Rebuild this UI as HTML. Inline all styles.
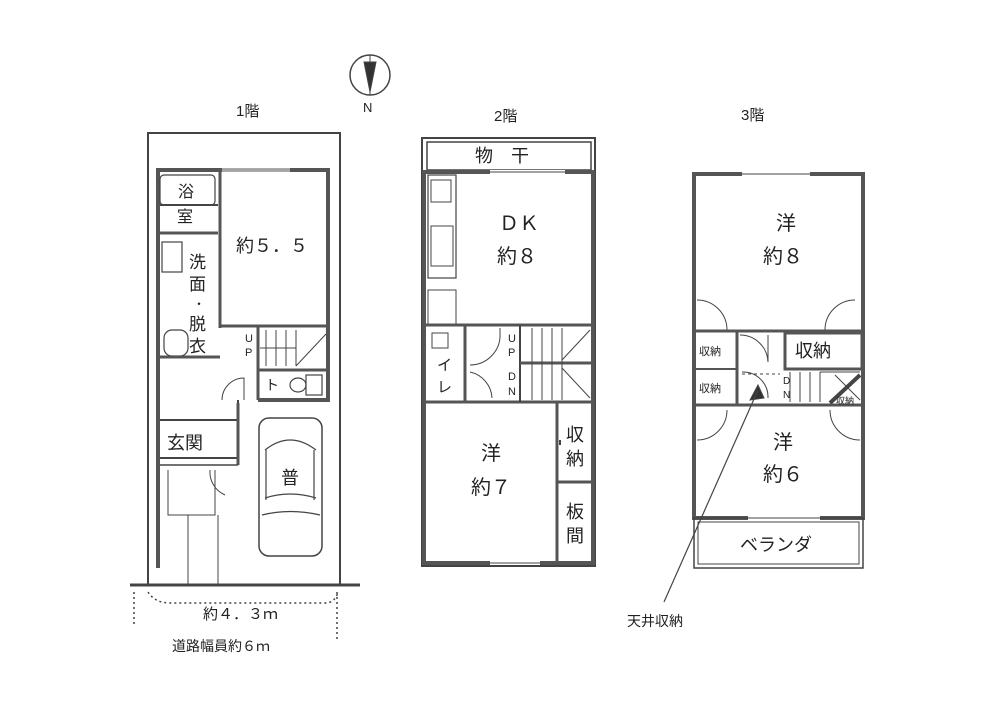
<!DOCTYPE html>
<html><head><meta charset="utf-8"><style>
html,body{margin:0;padding:0;background:#fff;}
svg{display:block}
text{font-family:"Liberation Sans","Noto Sans CJK JP",sans-serif;fill:#222;}
</style></head><body>
<svg width="1000" height="706" viewBox="0 0 1000 706" xmlns="http://www.w3.org/2000/svg">
<rect width="1000" height="706" fill="#fff"/>
<g stroke="#444" fill="none">
<!-- compass -->
<circle cx="370" cy="75" r="20" stroke-width="1.5"/>
<line x1="370" y1="55" x2="370" y2="95" stroke-width="1"/>
<path d="M364 62 L370 92 L376 62 Z" fill="#333"/>

<!-- ===== FLOOR 1 ===== -->
<path d="M148 585 V133 H340 V585" stroke-width="2"/>
<line x1="130" y1="585" x2="360" y2="585" stroke-width="3"/>
<!-- building walls -->
<path d="M158 568 V170 H328 V400 H258" stroke="#555" stroke-width="4"/>
<line x1="222" y1="170" x2="290" y2="170" stroke="#fff" stroke-width="3"/>
<line x1="222" y1="170" x2="290" y2="170" stroke-width="1"/>
<line x1="220" y1="170" x2="220" y2="328" stroke-width="3" stroke="#555"/>
<line x1="220" y1="326" x2="328" y2="326" stroke-width="3" stroke="#555"/>
<rect x="160" y="175" width="55" height="30" rx="4" stroke-width="1.2"/>
<line x1="160" y1="205" x2="218" y2="205" stroke-width="2"/>
<line x1="160" y1="233" x2="218" y2="233" stroke-width="3" stroke="#555"/>
<rect x="162" y="242" width="20" height="30" stroke-width="1.2"/>
<rect x="164" y="330" width="24" height="26" rx="8" stroke-width="1.2"/>
<line x1="158" y1="357" x2="220" y2="357" stroke-width="3" stroke="#555"/>
<!-- stairs -->
<line x1="258" y1="326" x2="258" y2="400" stroke-width="3" stroke="#555"/>
<line x1="258" y1="370" x2="328" y2="370" stroke-width="3" stroke="#555"/>
<g stroke-width="1"><line x1="266" y1="330" x2="266" y2="366"/><line x1="276" y1="330" x2="276" y2="366"/><line x1="286" y1="330" x2="286" y2="366"/><line x1="296" y1="330" x2="296" y2="366"/><line x1="260" y1="348" x2="296" y2="348"/><line x1="296" y1="366" x2="326" y2="334"/></g>
<rect x="306" y="375" width="16" height="20" stroke-width="1.2"/>
<ellipse cx="298" cy="385" rx="8" ry="7" stroke-width="1.2"/>
<path d="M222 400 A22 22 0 0 1 244 378 V400" stroke-width="1"/>
<path d="M238 400 V465 M160 420 H238 M160 458 H238" stroke-width="2"/>
<line x1="238" y1="403" x2="238" y2="465" stroke="#555" stroke-width="3"/>
<path d="M160 465 H238" stroke-width="1.5"/>
<path d="M168 470 V515 H215 V470 M210 470 A25 25 0 0 0 225 495" stroke-width="1"/>
<path d="M188 515 V585 M218 515 V585" stroke-width="1"/>
<!-- car -->
<rect x="259" y="418" width="63" height="138" rx="10" stroke-width="1.5"/>
<path d="M265 450 Q290 430 316 450 M265 498 Q290 490 316 498 M262 515 Q290 508 320 515 M266 450 V500 M314 450 V500" stroke-width="1.2"/>
<!-- dimension -->
<path d="M148 592 Q155 603 170 603 H325 Q335 603 338 592" stroke-dasharray="2 3" stroke-width="1.5"/>
<path d="M134 592 V625 M337 592 V640" stroke-dasharray="2 3" stroke-width="1.5"/>

<!-- ===== FLOOR 2 ===== -->
<rect x="422" y="138" width="173" height="428" stroke-width="2"/>
<rect x="427" y="142" width="164" height="28" stroke-width="1.5"/>
<path d="M424 172 H593 V563 H424 Z" stroke="#555" stroke-width="4"/>
<line x1="490" y1="172" x2="565" y2="172" stroke="#fff" stroke-width="4"/>
<line x1="490" y1="172" x2="565" y2="172" stroke-width="1"/>
<line x1="490" y1="563" x2="540" y2="563" stroke="#fff" stroke-width="4"/>
<line x1="490" y1="563" x2="540" y2="563" stroke-width="1"/>
<rect x="428" y="175" width="28" height="103" stroke-width="1.2"/>
<rect x="431" y="180" width="20" height="22" stroke-width="1"/>
<rect x="431" y="226" width="22" height="40" stroke-width="1"/>
<rect x="428" y="290" width="28" height="34" stroke-width="1"/>
<line x1="424" y1="325" x2="593" y2="325" stroke="#555" stroke-width="3"/>
<line x1="424" y1="402" x2="593" y2="402" stroke="#555" stroke-width="3"/>
<line x1="465" y1="325" x2="465" y2="402" stroke="#555" stroke-width="3"/>
<path d="M432 333 H448 V348 H432 Z" stroke-width="1"/>
<path d="M470 365 A30 30 0 0 0 500 333 V328 M470 372 A28 28 0 0 1 492 398" stroke-width="1"/>
<line x1="520" y1="325" x2="520" y2="402" stroke-width="2"/>
<line x1="520" y1="363" x2="593" y2="363" stroke="#555" stroke-width="3"/>
<g stroke-width="1"><line x1="532" y1="328" x2="532" y2="400"/><line x1="542" y1="328" x2="542" y2="400"/><line x1="552" y1="328" x2="552" y2="400"/><line x1="562" y1="328" x2="562" y2="400"/><line x1="562" y1="360" x2="590" y2="330"/><line x1="562" y1="368" x2="590" y2="398"/></g>
<line x1="557" y1="402" x2="557" y2="563" stroke="#555" stroke-width="3"/>
<line x1="557" y1="482" x2="593" y2="482" stroke="#555" stroke-width="3"/>
<line x1="560" y1="440" x2="560" y2="445" stroke-width="2"/>

<!-- ===== FLOOR 3 ===== -->
<path d="M694 174 H863 V518 H694 Z" stroke="#555" stroke-width="4"/>
<line x1="742" y1="174" x2="810" y2="174" stroke="#fff" stroke-width="4"/>
<line x1="742" y1="174" x2="810" y2="174" stroke-width="1"/>
<rect x="694" y="518" width="169" height="50" stroke-width="1.5"/>
<rect x="698" y="522" width="161" height="42" stroke-width="1"/>
<line x1="748" y1="518" x2="820" y2="518" stroke="#fff" stroke-width="4"/>
<line x1="748" y1="518" x2="820" y2="518" stroke-width="1"/>
<line x1="694" y1="331" x2="863" y2="331" stroke="#555" stroke-width="3"/>
<line x1="694" y1="405" x2="863" y2="405" stroke="#555" stroke-width="3"/>
<line x1="694" y1="369" x2="737" y2="369" stroke="#555" stroke-width="2"/>
<line x1="737" y1="331" x2="737" y2="405" stroke="#555" stroke-width="3"/>
<rect x="785" y="333" width="77" height="36" stroke="#555" stroke-width="3"/>
<g stroke-width="1"><line x1="790" y1="372" x2="790" y2="402"/><line x1="800" y1="372" x2="800" y2="402"/><line x1="810" y1="372" x2="810" y2="402"/><line x1="820" y1="372" x2="820" y2="402"/><line x1="820" y1="372" x2="860" y2="372"/><line x1="830" y1="403" x2="860" y2="375" stroke-width="4"/><line x1="835" y1="375" x2="860" y2="400"/></g>
<path d="M697 300 A30 30 0 0 1 727 330 M855 300 A30 30 0 0 0 825 330 M697 440 A30 30 0 0 0 727 410 M860 440 A30 30 0 0 1 830 410 M740 335 A28 28 0 0 1 768 362 V335 M742 372 A25 25 0 0 1 768 398" stroke-width="1"/>
<line x1="742" y1="374" x2="780" y2="374" stroke-dasharray="3 3" stroke-width="1"/>
<path d="M750 400 L758 385 L764 398 Z" fill="#333"/>
<line x1="758" y1="390" x2="664" y2="602" stroke-width="1.2"/>
</g>

<g font-size="15">
<text x="236" y="116">1階</text>
<text x="363" y="112" font-size="13">N</text>
<text x="494" y="121">2階</text>
<text x="741" y="120">3階</text>
</g>
<g font-size="18">
<text x="178" y="197" font-size="16">浴</text>
<text x="177" y="222" font-size="16">室</text>
<text x="189" y="268" font-size="17">洗</text>
<text x="189" y="290" font-size="17">面</text>
<text x="193" y="308" font-size="12">・</text>
<text x="189" y="330" font-size="17">脱</text>
<text x="189" y="352" font-size="17">衣</text>
<text x="236" y="252">約５．５</text>
<text x="245" y="342" font-size="11">U</text>
<text x="245" y="356" font-size="11">P</text>
<text x="265" y="390" font-size="14">ト</text>
<text x="167" y="449">玄関</text>
<text x="281" y="484">普</text>
<text x="203" y="619" font-size="15">約４．３ｍ</text>
<text x="172" y="651" font-size="14">道路幅員約６ｍ</text>

<text x="475" y="162">物　干</text>
<text x="499" y="230" font-size="20">ＤＫ</text>
<text x="497" y="263" font-size="20">約８</text>
<text x="437" y="370" font-size="15">イ</text>
<text x="437" y="392" font-size="15">レ</text>
<text x="508" y="342" font-size="11">U</text>
<text x="508" y="356" font-size="11">P</text>
<text x="508" y="380" font-size="11">D</text>
<text x="508" y="395" font-size="11">N</text>
<text x="481" y="460" font-size="20">洋</text>
<text x="471" y="494" font-size="20">約７</text>
<text x="566" y="441">収</text>
<text x="566" y="465">納</text>
<text x="566" y="518">板</text>
<text x="566" y="542">間</text>

<text x="776" y="230" font-size="20">洋</text>
<text x="763" y="263" font-size="20">約８</text>
<text x="699" y="355" font-size="11">収納</text>
<text x="699" y="392" font-size="11">収納</text>
<text x="795" y="357" font-size="18">収納</text>
<text x="783" y="384" font-size="10">D</text>
<text x="783" y="398" font-size="10">N</text>
<text x="836" y="404" font-size="9">収納</text>
<text x="773" y="449" font-size="20">洋</text>
<text x="763" y="481" font-size="20">約６</text>
<text x="740" y="551" font-size="18">ベランダ</text>
<text x="627" y="626" font-size="14">天井収納</text>
</g>
</svg>
</body></html>
